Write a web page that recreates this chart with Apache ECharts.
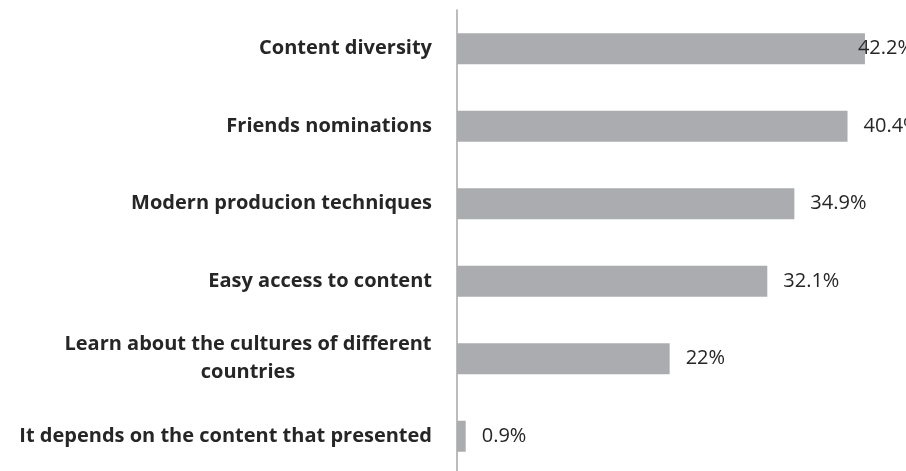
<!DOCTYPE html>
<html>
<head>
<meta charset="utf-8">
<script src="https://cdn.jsdelivr.net/npm/echarts@6/dist/echarts.min.js"></script>
<style>
  html, body { margin: 0; padding: 0; background: #fff; }
  #chart { width: 906px; height: 471px; }
</style>
</head>
<body>
<div id="chart"></div>
<script>
// Reasons for watching, share of respondents (%)
const categories = [
  'Content diversity',
  'Friends nominations',
  'Modern producion techniques',
  'Easy access to content',
  'Learn about the cultures of different countries',
  'It depends on the content that presented'
];
const values = [42.2, 40.4, 34.9, 32.1, 22, 0.9];

const chart = echarts.init(document.getElementById('chart'));

// Category axis runs top to bottom, so feed it reversed
const cats = categories.slice().reverse();
const vals = values.slice().reverse();

const FONT = 'Open Sans';

chart.setOption({
  animation: false,
  grid: {
    left: 457, top: 10, width: 435, height: 465,
    containLabel: false, outerBoundsMode: 'none'
  },
  xAxis: {
    type: 'value', min: 0, max: 45,
    show: false
  },
  yAxis: {
    type: 'category',
    data: cats,
    axisLine: { show: true, lineStyle: { color: '#a6a6a6', width: 1.5 } },
    axisTick: { show: false },
    axisLabel: {
      margin: 25,
      fontFamily: FONT,
      fontWeight: 'bold',
      fontSize: 20,
      color: '#262626',
      align: 'right',
      formatter: function (v) {
        if (v === 'Learn about the cultures of different countries') {
          return '{c|Learn about the cultures of different}\n{c|countries}';
        }
        return v;
      },
      rich: {
        c: {
          width: 368, align: 'center', lineHeight: 28,
          fontFamily: FONT, fontWeight: 'bold', fontSize: 20, color: '#262626'
        }
      }
    }
  },
  series: [{
    type: 'bar',
    data: vals.map(function (v, i) {
      const item = { value: v };
      if (i === vals.length - 1) item.label = { offset: [-23, 0] };
      return item;
    }),
    barWidth: 31,
    itemStyle: { color: '#abacaf' },
    label: {
      show: true,
      position: 'right',
      distance: 16,
      fontFamily: FONT,
      fontSize: 20,
      color: '#262626',
      formatter: function (p) { return p.value + '%'; }
    }
  }]
});
</script>
</body>
</html>
